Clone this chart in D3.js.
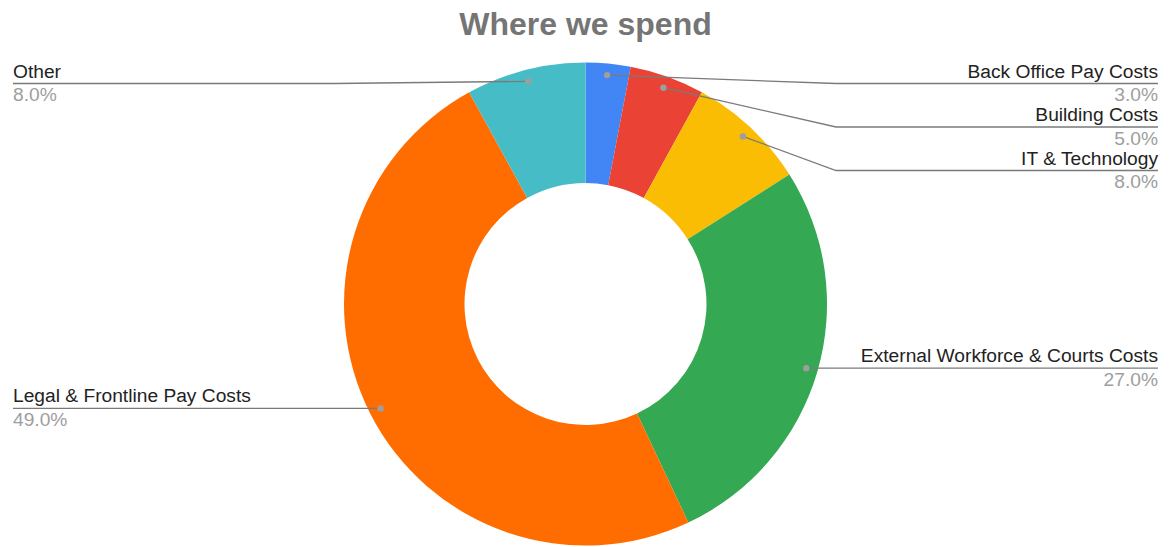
<!DOCTYPE html>
<html>
<head>
<meta charset="utf-8">
<script src="https://cdn.jsdelivr.net/npm/d3@7"></script>
<style>
  html, body { margin: 0; padding: 0; background: #fff; }
  svg { display: block; font-family: Arial, "Liberation Sans", sans-serif; }
</style>
</head>
<body>
<div id="wrapper"></div>
<script>
const categories = [
  "Back Office Pay Costs",
  "Building Costs",
  "IT & Technology",
  "External Workforce & Courts Costs",
  "Legal & Frontline Pay Costs",
  "Other",
];
const values = [3, 5, 8, 27, 49, 8];
const colors = ["#4285F4", "#EA4335", "#FBBC04", "#34A853", "#FF6D01", "#46BDC6"];
const title = "Where we spend";

/* CHART DIMENSIONS */
const dimensions = {
  width: 1169,
  height: 547,
  cx: 585.5,
  cy: 304,
  outer: 241.5,
  inner: 121,
  labelLeft: 13,
  labelRight: 1158,
  elbowGap: 250.5,
  rowHeight: 43.5,
  minLineY: 83.5,
};

const total = d3.sum(values);
const data = categories.map((name, i) => ({ name, value: values[i], color: colors[i] }));

const pie = d3.pie().value((d) => d.value).sort(null);
const arcs = pie(data);

const arc = d3.arc().innerRadius(dimensions.inner).outerRadius(dimensions.outer);
const dotArc = d3.arc().innerRadius(dimensions.outer * 0.952).outerRadius(dimensions.outer * 0.952);

const wrapper = d3.select("#wrapper")
  .append("svg")
  .attr("width", dimensions.width)
  .attr("height", dimensions.height);

wrapper.append("text")
  .attr("x", dimensions.cx)
  .attr("y", 35)
  .attr("text-anchor", "middle")
  .attr("font-size", 32)
  .attr("font-weight", "bold")
  .attr("fill", "#757575")
  .text(title);

const bounds = wrapper.append("g")
  .attr("transform", `translate(${dimensions.cx}, ${dimensions.cy})`);

bounds.selectAll("path.slice")
  .data(arcs)
  .enter().append("path")
  .attr("class", "slice")
  .attr("d", arc)
  .attr("fill", (d) => d.data.color);

/* LABEL LAYOUT */
const labels = arcs.map((d) => {
  const [x, y] = dotArc.centroid(d);
  const mid = (d.startAngle + d.endAngle) / 2;
  return { d, dotX: x + dimensions.cx, dotY: y + dimensions.cy, right: mid < Math.PI };
});

["right", "left"].forEach((side) => {
  const group = labels
    .filter((l) => (side === "right") === l.right)
    .sort((a, b) => a.dotY - b.dotY);
  let prev = -Infinity;
  group.forEach((l) => {
    l.lineY = Math.max(l.dotY, prev + dimensions.rowHeight, dimensions.minLineY);
    prev = l.lineY;
  });
});

const labelG = wrapper.append("g");

labels.forEach((l) => {
  const elbowX = l.right ? dimensions.cx + dimensions.elbowGap : dimensions.cx - dimensions.elbowGap;
  const endX = l.right ? dimensions.labelRight : dimensions.labelLeft;
  const pts = l.right
    ? [[l.dotX, l.dotY], [Math.max(elbowX, l.dotX), l.lineY], [endX, l.lineY]]
    : [[l.dotX, l.dotY], [Math.min(elbowX, l.dotX), l.lineY], [endX, l.lineY]];

  labelG.append("path")
    .attr("d", d3.line()(pts))
    .attr("fill", "none")
    .attr("stroke", "#7a7a7a")
    .attr("stroke-width", 1.3);

  labelG.append("circle")
    .attr("cx", l.dotX)
    .attr("cy", l.dotY)
    .attr("r", 3.2)
    .attr("fill", "#9e9e9e");

  const anchor = l.right ? "end" : "start";
  labelG.append("text")
    .attr("x", endX)
    .attr("y", l.lineY - 6)
    .attr("text-anchor", anchor)
    .attr("font-size", 19.2)
    .attr("fill", "#222")
    .text(l.d.data.name);

  labelG.append("text")
    .attr("x", endX)
    .attr("y", l.lineY + 17.5)
    .attr("text-anchor", anchor)
    .attr("font-size", 19.2)
    .attr("fill", "#9e9e9e")
    .text(d3.format(".1%")(l.d.data.value / total));
});
</script>
</body>
</html>
